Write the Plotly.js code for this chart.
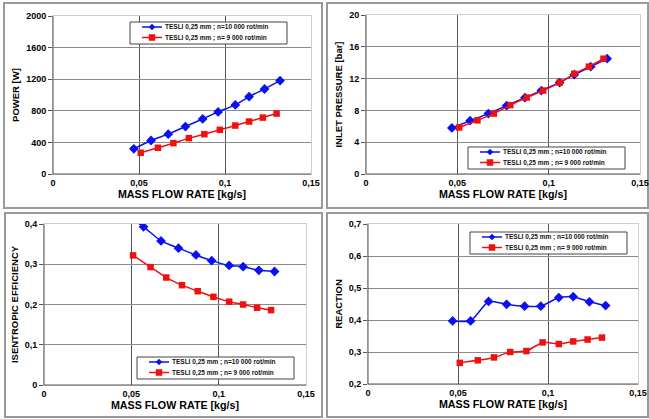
<!DOCTYPE html>
<html>
<head>
<meta charset="utf-8">
<script src="https://cdn.plot.ly/plotly-3.0.1.min.js"></script>
<style>html,body{margin:0;padding:0;background:#fff}#chart{width:649px;height:419px}</style>
</head>
<body>
<div id="chart"></div>
<script>
// ---- data ----
var seriesNames = ["TESLI 0,25 mm ; n=10 000 rot/min", "TESLI 0,25 mm ; n= 9 000 rot/min"];
var flowBlue = [0.047, 0.057, 0.067, 0.077, 0.087, 0.096, 0.106, 0.114, 0.123, 0.132];
var flowRed  = [0.051, 0.061, 0.070, 0.079, 0.088, 0.097, 0.106, 0.114, 0.122, 0.130];
var powerBlue = [319, 424, 504, 601, 697, 786, 874, 979, 1076, 1181];
var powerRed  = [269, 332, 391, 454, 504, 559, 613, 664, 714, 765];
var pressBlue = [5.8, 6.7, 7.6, 8.6, 9.6, 10.5, 11.5, 12.5, 13.5, 14.5];
var pressRed  = [5.85, 6.75, 7.6, 8.66, 9.62, 10.5, 11.5, 12.6, 13.5, 14.5];
var effBlue = [0.423, 0.393, 0.358, 0.340, 0.323, 0.309, 0.297, 0.294, 0.285, 0.282];
var effRed  = [0.322, 0.293, 0.267, 0.248, 0.233, 0.219, 0.207, 0.200, 0.192, 0.186];
var reacBlue = [0.397, 0.397, 0.458, 0.449, 0.443, 0.443, 0.470, 0.473, 0.457, 0.445];
var reacRed  = [0.266, 0.274, 0.283, 0.300, 0.303, 0.330, 0.325, 0.333, 0.339, 0.345];
var xTickVals = [0, 0.05, 0.1, 0.15];
var xTickText = ["0", "0,05", "0,1", "0,15"];
var xTitle = "MASS FLOW RATE [kg/s]";
var yTitles = ["POWER [W]", "INLET PRESSURE [bar]", "ISENTROPIC EFFICIENCY", "REACTION"];
var yTicks = [
  {vals:[0,400,800,1200,1600,2000], text:["0","400","800","1200","1600","2000"]},
  {vals:[0,4,8,12,16,20], text:["0","4","8","12","16","20"]},
  {vals:[0,0.1,0.2,0.3,0.4], text:["0","0,1","0,2","0,3","0,4"]},
  {vals:[0.2,0.3,0.4,0.5,0.6,0.7], text:["0,2","0,3","0,4","0,5","0,6","0,7"]}
];

// ---- layout helpers ----
var W = 649, H = 419;
var BLUE = "#0a10f0", RED = "#f01010";
var FONT = "Arial, 'Liberation Sans', sans-serif";
function px(x){return x / W;}
function py(y){return 1 - y / H;}

var panels = [
  {x0:53, x1:311, y0:16, y1:174, yr:[0,2000], b:powerBlue, r:powerRed, leg:[130,22], frame:[4,3,322,208]},
  {x0:366, x1:640, y0:15, y1:174, yr:[0,20], b:pressBlue, r:pressRed, leg:[468,147], frame:[327,3,648,208]},
  {x0:44, x1:306, y0:224, y1:385, yr:[0,0.4], b:effBlue, r:effRed, leg:[137,357], frame:[5,213,322,417]},
  {x0:368, x1:638, y0:224, y1:384, yr:[0.2,0.7], b:reacBlue, r:reacRed, leg:[470,232], frame:[327,213,648,417]}
];

var data = [];
var layout = {
  width: W, height: H,
  margin: {l:0, r:0, t:0, b:0},
  paper_bgcolor: "#fff", plot_bgcolor: "#fff",
  showlegend: false,
  font: {family: FONT, size: 9, color: "#000"},
  shapes: [], annotations: []
};

panels.forEach(function(p, i){
  var n = i + 1;
  var xa = "x" + (n === 1 ? "" : n), ya = "y" + (n === 1 ? "" : n);
  var xk = "xaxis" + (n === 1 ? "" : n), yk = "yaxis" + (n === 1 ? "" : n);
  data.push({x: flowBlue, y: p.b, xaxis: xa, yaxis: ya, type: "scatter", mode: "lines+markers",
    name: seriesNames[0], cliponaxis: true,
    line: {color: BLUE, width: 1.5, shape: "spline", smoothing: 0.5},
    marker: {symbol: "diamond", size: 7.5, color: BLUE}});
  data.push({x: flowRed, y: p.r, xaxis: xa, yaxis: ya, type: "scatter", mode: "lines+markers",
    name: seriesNames[1], cliponaxis: true,
    line: {color: RED, width: 1.5, shape: "spline", smoothing: 0.5},
    marker: {symbol: "square", size: 6.5, color: RED}});
  layout[xk] = {
    domain: [px(p.x0), px(p.x1)], anchor: ya, range: [0, 0.15],
    tickvals: xTickVals, ticktext: xTickText, tickfont: {family: FONT, size: 9, weight: "bold"},
    showgrid: true, gridcolor: "#555", gridwidth: 1, zeroline: false,
    showline: true, linecolor: "#cfcfcf", linewidth: 1, mirror: true, ticks: "", ticklen: 0,
    title: {text: xTitle, font: {family: FONT, size: 10.7, weight: "bold"}, standoff: 2},
    fixedrange: true
  };
  layout[yk] = {
    domain: [py(p.y1), py(p.y0)], anchor: xa, range: p.yr,
    tickvals: yTicks[i].vals, ticktext: yTicks[i].text, tickfont: {family: FONT, size: 9, weight: "bold"},
    showgrid: true, gridcolor: "#8a8a8a", gridwidth: 1, zeroline: false,
    showline: true, linecolor: "#cfcfcf", linewidth: 1, mirror: true,
    ticks: "outside", ticklen: 4, tickcolor: "#555",
    title: {text: yTitles[i], font: {family: FONT, size: 9.5, weight: "bold"}, standoff: 4},
    fixedrange: true
  };
  // left & bottom axis lines (dark)
  layout.shapes.push({type:"line", xref:"paper", yref:"paper", x0:px(p.x0), x1:px(p.x0), y0:py(p.y1), y1:py(p.y0), line:{color:"#555", width:1}});
  layout.shapes.push({type:"line", xref:"paper", yref:"paper", x0:px(p.x0), x1:px(p.x1), y0:py(p.y1), y1:py(p.y1), line:{color:"#555", width:1}});
  // panel frame
  var f = p.frame;
  layout.shapes.push({type:"rect", xref:"paper", yref:"paper", layer:"below", x0:px(f[0]), x1:px(f[2]), y0:py(f[3]), y1:py(f[1]), line:{color:"#9a9a9a", width:2}, fillcolor:"rgba(0,0,0,0)"});
  // custom legend
  var lx = p.leg[0], ly = p.leg[1], lw = 157, lh = 22;
  layout.shapes.push({type:"rect", xref:"paper", yref:"paper", x0:px(lx), x1:px(lx+lw), y0:py(ly+lh), y1:py(ly), line:{color:"#444", width:1}, fillcolor:"#fff"});
  [0,1].forEach(function(k){
    var cy = ly + 5 + k*10.5;
    var col = k === 0 ? BLUE : RED;
    layout.shapes.push({type:"line", xref:"paper", yref:"paper", x0:px(lx+12), x1:px(lx+32), y0:py(cy), y1:py(cy), line:{color:col, width:1.5}});
    var mx = lx + 22;
    if (k === 0) {
      layout.shapes.push({type:"path", xref:"paper", yref:"paper",
        path:"M "+px(mx-3)+" "+py(cy)+" L "+px(mx)+" "+py(cy-3)+" L "+px(mx+3)+" "+py(cy)+" L "+px(mx)+" "+py(cy+3)+" Z",
        fillcolor: col, line:{color: col, width:0.5}});
    } else {
      layout.shapes.push({type:"rect", xref:"paper", yref:"paper", x0:px(mx-3), x1:px(mx+3), y0:py(cy+3), y1:py(cy-3), fillcolor: col, line:{color: col, width:0.5}});
    }
    layout.annotations.push({xref:"paper", yref:"paper", x:px(lx+33), y:py(cy), xanchor:"left", yanchor:"middle",
      text: seriesNames[k], showarrow:false, font:{family: FONT, size: 6.5, weight: "bold", color:"#111"}});
  });
});

Plotly.newPlot("chart", data, layout, {displayModeBar: false, staticPlot: true});
</script>
</body>
</html>
